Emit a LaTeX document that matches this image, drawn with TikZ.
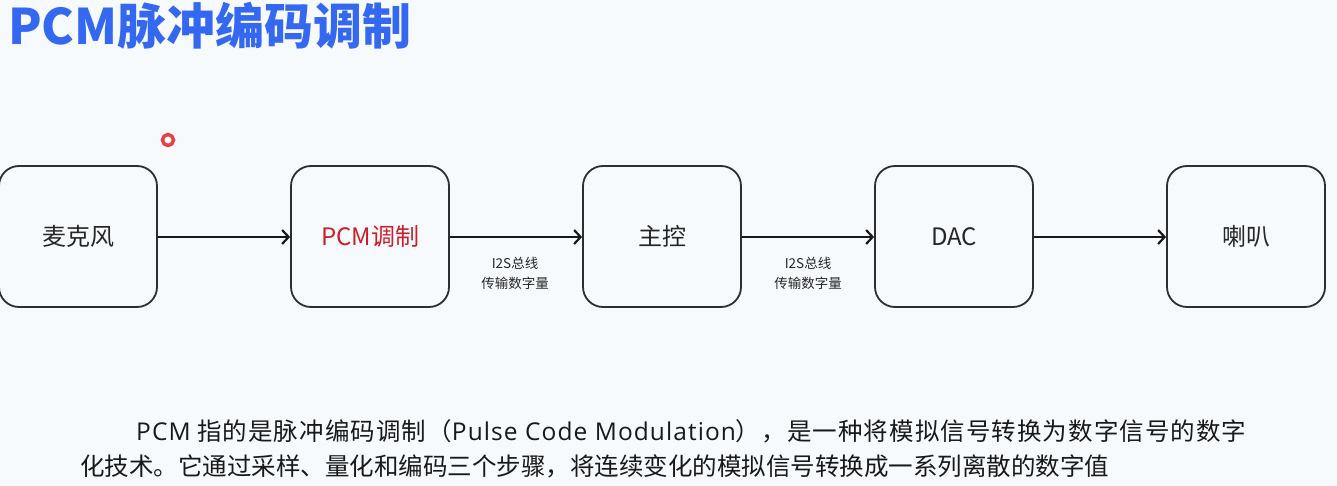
\documentclass[tikz,border=0pt]{standalone}
\usepackage{fontspec}
\setmainfont{Noto Sans CJK SC}
\newfontfamily\cjk{Noto Sans CJK SC}
\newfontfamily\lat{Open Sans}
\newfontfamily\cjkls[LetterSpace=4.4]{Noto Sans CJK SC}
\newfontfamily\latls[LetterSpace=4.4]{Open Sans}
\usetikzlibrary{arrows.meta}
\definecolor{bgc}{HTML}{F7FAFD}
\definecolor{linec}{HTML}{2E2E2E}
\definecolor{titlec}{HTML}{3468F0}
\definecolor{redc}{HTML}{C8202A}
\definecolor{dotc}{HTML}{E8404A}
\tikzset{
  stage/.style={draw=linec, line width=1.8pt, rounded corners=20pt, minimum width=158pt, minimum height=141pt, inner sep=0pt, font=\cjk\fontsize{24}{28}\selectfont, text=black!85},
  flow/.style={draw=black!90, line width=2.2pt, -{Straight Barb[length=6.5pt,width=14pt,line width=2.2pt]}},
  buslabel/.style={align=center, font=\cjk\fontsize{13.5}{20}\selectfont, text=black!85, inner sep=0pt},
  bodytext/.style={anchor=base west, inner sep=0pt, font=\cjk\fontsize{24.5}{30}\selectfont, text=black!90}
}
\begin{document}
\begin{tikzpicture}[x=1pt,y=-1pt]
\fill[bgc] (0,0) rectangle (1337,486);
\useasboundingbox (0,0) rectangle (1337,486);
\node[anchor=base west, inner sep=0pt, text=titlec, font=\cjk\bfseries\fontsize{49}{55}\selectfont] (title) at (8,45) {PCM脉冲编码调制};
\node[circle, draw=dotc, line width=3.5pt, fill=white, minimum size=11pt, inner sep=0pt] (dot) at (168,140) {};
\node[stage] (mic) at (78,236.5) {麦克风};
\node[stage, text=redc] (pcm) at (370,236.5) {PCM调制};
\node[stage] (mcu) at (662,236.5) {主控};
\node[stage] (dac) at (954,236.5) {DAC};
\node[stage] (spk) at (1246,236.5) {喇叭};
\draw[flow] (mic.east |- 0,237) -- (pcm.west |- 0,237);
\draw[flow] (pcm.east |- 0,237) -- (mcu.west |- 0,237);
\draw[flow] (mcu.east |- 0,237) -- (dac.west |- 0,237);
\draw[flow] (dac.east |- 0,237) -- (spk.west |- 0,237);
\node[buslabel] (bus1) at (515,273) {I2S总线\\传输数字量};
\node[buslabel] (bus2) at (808,273) {I2S总线\\传输数字量};
\node[bodytext] (line1) at (136,440) {\cjkls{\latls PCM} 指的是脉冲编码调制（{\latls Pulse Code Modulation}），是一种将模拟信号转换为数字信号的数字};
\node[bodytext] (line2) at (80,475) {化技术。它通过采样、量化和编码三个步骤，将连续变化的模拟信号转换成一系列离散的数字值};
\end{tikzpicture}
\end{document}
